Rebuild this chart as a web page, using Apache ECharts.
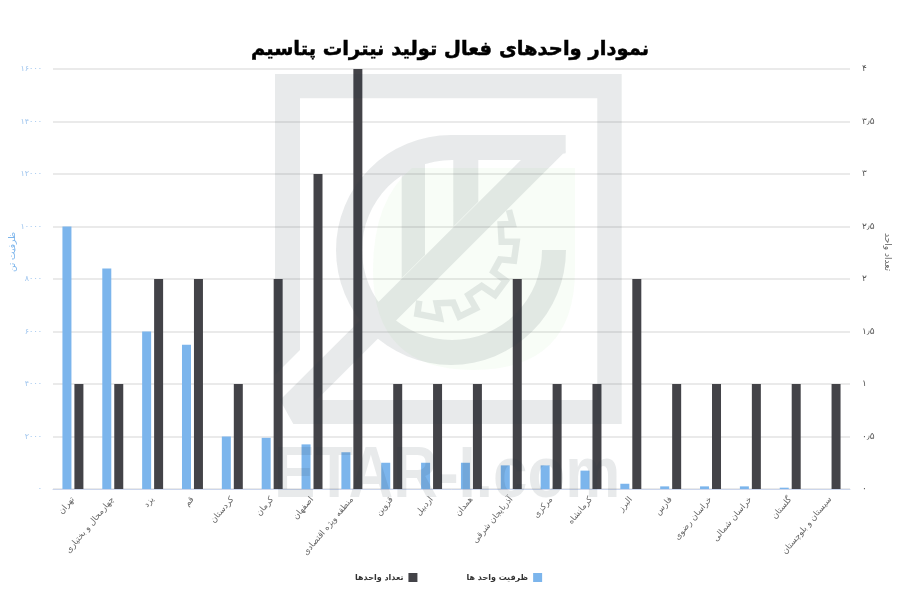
<!DOCTYPE html>
<html><head><meta charset="utf-8">
<style>html,body{margin:0;padding:0;background:#fff}#c{width:900px;height:600px}</style>
<script src="https://cdn.jsdelivr.net/npm/echarts@6/dist/echarts.min.js"></script>
</head><body><div id="c"></div>
<script>
const categories = ['تهران','چهارمحال و بختیاری','یزد','قم','کردستان','کرمان','اصفهان','منطقه ویژه اقتصادی','قزوین','اردبیل','همدان','آذربایجان شرقی','مرکزی','کرمانشاه','البرز','فارس','خراسان رضوی','خراسان شمالی','گلستان','سیستان و بلوچستان'];
const capacity = [10000,8400,6000,5500,2000,1950,1700,1400,1000,1000,1000,900,900,700,200,100,100,100,50,0];
const unitCount = [1,1,2,2,1,2,3,4,1,1,1,2,1,1,2,1,1,1,1,1];
const leftTicks = ['۰','۲۰۰۰','۴۰۰۰','۶۰۰۰','۸۰۰۰','۱۰۰۰۰','۱۲۰۰۰','۱۴۰۰۰','۱۶۰۰۰'];
const rightTicks = ['۰','۰٫۵','۱','۱٫۵','۲','۲٫۵','۳','۳٫۵','۴'];
const titleText = 'نمودار واحدهای فعال تولید نیترات پتاسیم';
const capName = 'ظرفیت واحد ها', countName = 'تعداد واحدها';
const leftAxisName = 'ظرفیت تن', rightAxisName = 'تعداد واحد';

const FONT = '"DejaVu Sans"';
// watermark geometry helpers: crop coordinates to page pixels
const px = (x, y) => (260 + x / 3).toFixed(1) + ' ' + (60 + y / 3).toFixed(1);
const poly = pts => 'M' + pts.map(p => px(p[0], p[1])).join('L') + 'Z';
const logoPath = [
  poly([[45,42],[1085,42],[1085,115],[45,115]]),
  poly([[45,42],[120,42],[120,870],[45,945]]),
  poly([[1012,42],[1085,42],[1085,1092],[1012,1092]]),
  poly([[60,1020],[1085,1020],[1085,1092],[100,1092]]),
  poly([[785,298],[917,273],[100,1090],[60,1020]]),
  poly([[575,225],[917,225],[917,280],[785,300],[575,300]]),
  poly([[495,300],[495,585],[425,655],[425,340]]),
  poly([[580,295],[655,295],[655,425],[580,500]]),
  'M566 250A115 115 0 1 1 452 135L452 160A90 90 0 1 0 542 250Z'
].join('');
const shieldPath = 'M503 168L575 168L575 270Q575 370 473 370Q373 370 373 270Q373 200 412 168Z';
echarts.graphic.registerShape('logoShape', echarts.graphic.extendPath(logoPath, {}));
echarts.graphic.registerShape('shieldShape', echarts.graphic.extendPath(shieldPath, {}));
const gearPts = [[447,150],[458,192],[422,193],[425,245],[470,245],[462,302],[420,298],[400,335],[437,362],[405,405],[365,378],[325,405],[348,445],[298,470],[280,428],[230,430],[240,475],[172,462],[178,422]]
  .map(p => [360 + p[0] / 3, 160 + p[1] / 3]);
const wmFill = 'rgba(35,55,65,0.105)';

const chart = echarts.init(document.getElementById('c'));
chart.setOption({
  backgroundColor: '#fff',
  animation: false,
  textStyle: { fontFamily: FONT },
  title: { text: titleText, left: 'center', top: 35, textStyle: { fontFamily: FONT, fontSize: 19.5, fontWeight: 'bold', color: '#000', textBorderColor: '#000', textBorderWidth: 0.5 } },
  grid: { left: 53, right: 50, top: 69, bottom: 111, outerBoundsMode: 'none', containLabel: false },
  legend: {
    left: 350, top: 568, align: 'right', icon: 'rect', itemWidth: 9, itemHeight: 9, itemGap: 49,
    data: [countName, capName], selectedMode: false,
    textStyle: { fontFamily: FONT, fontSize: 8, fontWeight: 'bold', color: '#333' }
  },
  xAxis: {
    type: 'category', data: categories,
    axisLine: { lineStyle: { color: '#ccd6eb', width: 1 } },
    axisTick: { alignWithLabel: false, length: 7, lineStyle: { color: '#ccd6eb' } },
    axisLabel: { interval: 0, rotate: 50, fontSize: 8.5, color: '#666', margin: 9, fontFamily: FONT }
  },
  yAxis: [
    { type: 'value', min: 0, max: 16000, interval: 2000,
      axisLine: { show: false }, axisTick: { show: false },
      axisLabel: { color: '#9dc4ee', fontSize: 8, margin: 11, formatter: v => leftTicks[v / 2000], fontFamily: FONT },
      splitLine: { lineStyle: { color: 'rgba(0,0,0,0.11)', width: 1.5 } } },
    { type: 'value', min: 0, max: 4, interval: 0.5,
      axisLine: { show: false }, axisTick: { show: false },
      axisLabel: { color: '#555', fontSize: 9, margin: 12, formatter: v => rightTicks[v * 2], fontFamily: FONT },
      splitLine: { show: false } }
  ],
  series: [
    { name: capName, type: 'bar', yAxisIndex: 0, data: capacity, barWidth: 9, barGap: '33%', itemStyle: { color: '#7cb5ec' } },
    { name: countName, type: 'bar', yAxisIndex: 1, data: unitCount, barWidth: 9, itemStyle: { color: '#434348' } }
  ],
  graphic: { elements: [
    { type: 'shieldShape', z: -1, silent: true, style: { fill: 'rgba(120,225,100,0.05)' } },
    { type: 'logoShape', z: 100, silent: true, style: { fill: wmFill } },
    { type: 'polyline', z: 100, silent: true, shape: { points: gearPts },
      style: { fill: null, stroke: wmFill, lineWidth: 6.5, lineJoin: 'miter' } },
    { type: 'text', z: 100, silent: true, x: 274, y: 441, scaleX: 0.86,
      style: { text: 'ETAR-I.com', font: 'bold 72px "Liberation Sans"', fill: wmFill } },
    { type: 'text', silent: true, x: 13, y: 252, rotation: Math.PI / 2,
      style: { text: leftAxisName, font: '9px "DejaVu Sans"', fill: '#7cb5ec', align: 'center', verticalAlign: 'middle' } },
    { type: 'text', silent: true, x: 887, y: 252, rotation: -Math.PI / 2,
      style: { text: rightAxisName, font: '9px "DejaVu Sans"', fill: '#666', align: 'center', verticalAlign: 'middle' } }
  ] }
});
</script></body></html>
